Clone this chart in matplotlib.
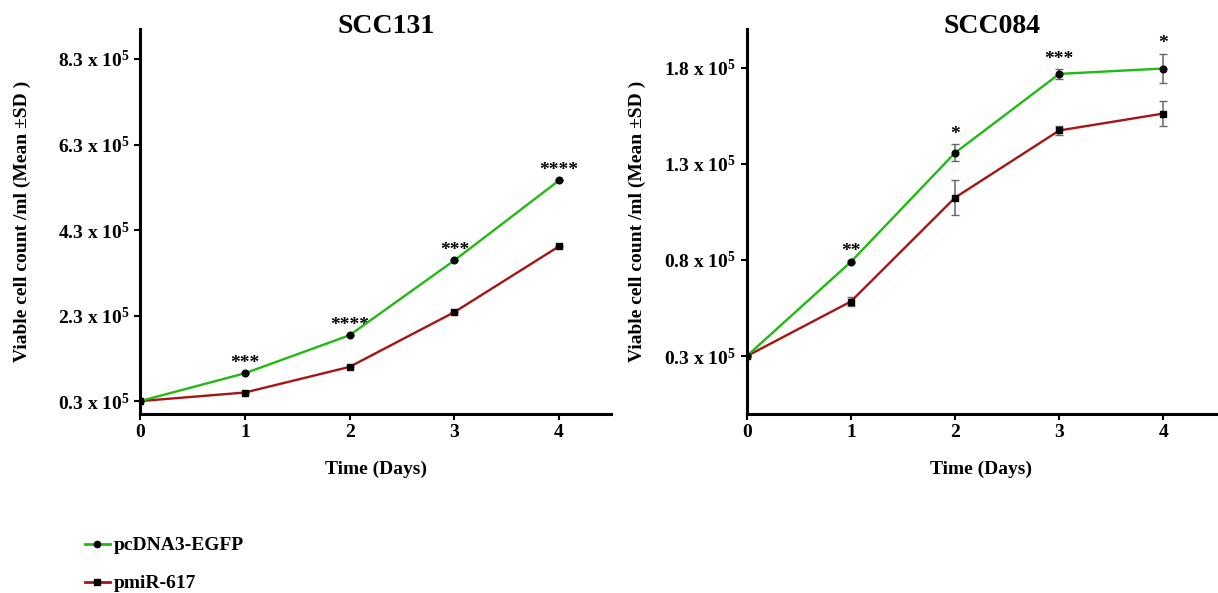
import matplotlib
matplotlib.use("Agg")
import matplotlib.pyplot as plt
from matplotlib.lines import Line2D
import numpy as np

plt.rcParams["font.family"] = ["Liberation Serif", "DejaVu Serif"]
plt.rcParams["font.weight"] = "bold"
plt.rcParams["mathtext.fontset"] = "custom"
plt.rcParams["mathtext.rm"] = "Liberation Serif:bold"
plt.rcParams["mathtext.default"] = "rm"

# 数据 (单位: 1e5 cells/ml)
days = [0, 1, 2, 3, 4]

scc131_egfp = [0.30, 0.95, 1.84, 3.59, 5.46]
scc131_egfp_sd = [0.0, 0.0, 0.0, 0.0, 0.0]
scc131_mir = [0.30, 0.50, 1.10, 2.38, 3.92]
scc131_mir_sd = [0.0, 0.0, 0.0, 0.0, 0.0]
scc131_stars = ["", "***", "****", "***", "****"]
scc131_ticks = [0.3, 2.3, 4.3, 6.3, 8.3]

scc084_egfp = [0.30, 0.79, 1.357, 1.767, 1.795]
scc084_egfp_sd = [0.0, 0.005, 0.044, 0.024, 0.076]
scc084_mir = [0.30, 0.584, 1.124, 1.473, 1.561]
scc084_mir_sd = [0.0, 0.022, 0.092, 0.024, 0.067]
scc084_stars = ["", "**", "*", "***", "*"]
scc084_ticks = [0.3, 0.8, 1.3, 1.8]

GREEN = "#1fba12"
RED = "#a61414"


def draw_panel(ax, title, egfp, egfp_sd, mir, mir_sd, stars, yticks, ylim):
    ax.errorbar(days, mir, yerr=mir_sd, color=RED, lw=1.7, marker="s", ms=4.8,
                mfc="black", mec="black", ecolor="#666666", elinewidth=1.1,
                capsize=3, zorder=3)
    ax.errorbar(days, egfp, yerr=egfp_sd, color=GREEN, lw=1.7, marker="o", ms=4.8,
                mfc="black", mec="black", ecolor="#666666", elinewidth=1.1,
                capsize=3, zorder=4)
    for x, y, sd, s in zip(days, egfp, egfp_sd, stars):
        if s:
            ax.annotate(s, (x, y + sd), xytext=(0, 1), textcoords="offset points",
                        ha="center", va="bottom", fontsize=14, fontweight="bold")

    ax.set_xlim(0, 4.5)
    ax.set_ylim(*ylim)
    ax.set_xticks(days)
    ax.set_yticks(yticks)
    ax.set_yticklabels([f"{t:.1f} x 10$^{{5}}$" for t in yticks])
    ax.tick_params(labelsize=14, width=1.5, length=4)
    ax.spines["top"].set_visible(False)
    ax.spines["right"].set_visible(False)
    ax.spines["left"].set_linewidth(2.2)
    ax.spines["bottom"].set_linewidth(2.2)
    ax.text(0.523, 0.99, title, transform=ax.transAxes, ha="center",
            va="baseline", fontsize=20, fontweight="bold")
    ax.set_xlabel("Time (Days)", fontsize=14, fontweight="bold", labelpad=14)
    ax.set_ylabel("Viable cell count /ml (Mean \u00b1SD )", fontsize=14,
                  fontweight="bold")


fig = plt.figure(figsize=(12.18, 5.93), dpi=100)
ax1 = fig.add_axes([0.115, 0.302, 0.387, 0.649])
ax2 = fig.add_axes([0.613, 0.302, 0.385, 0.649])

draw_panel(ax1, "SCC131", scc131_egfp, scc131_egfp_sd, scc131_mir, scc131_mir_sd,
           scc131_stars, scc131_ticks, (0, 9.0))
draw_panel(ax2, "SCC084", scc084_egfp, scc084_egfp_sd, scc084_mir, scc084_mir_sd,
           scc084_stars, scc084_ticks, (0, 2.0))
ax1.yaxis.set_label_coords(-0.232, 0.5)
ax2.yaxis.set_label_coords(-0.214, 0.5)

handles = [
    Line2D([], [], color=GREEN, lw=2, marker="o", ms=4.5, mfc="black", mec="black"),
    Line2D([], [], color=RED, lw=2, marker="s", ms=4.5, mfc="black", mec="black"),
]
fig.legend(handles, ["pcDNA3-EGFP", "pmiR-617"], loc="upper left",
           bbox_to_anchor=(0.063, 0.108), borderaxespad=0, frameon=False,
           handlelength=1.3, handletextpad=0.2, labelspacing=1.05,
           prop={"weight": "bold", "size": 14})

fig.savefig("out.png", dpi=100)
